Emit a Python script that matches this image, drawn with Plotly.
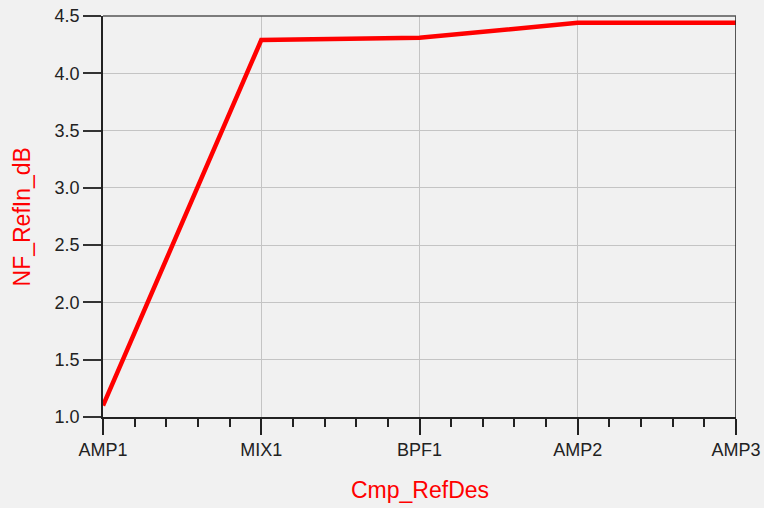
import plotly.graph_objects as go

categories = ["AMP1", "MIX1", "BPF1", "AMP2", "AMP3"]
nf_refin_db = [1.10, 4.29, 4.31, 4.44, 4.44]
y_ticks = [1.0, 1.5, 2.0, 2.5, 3.0, 3.5, 4.0, 4.5]

x_pos = list(range(len(categories)))

fig = go.Figure()
fig.add_trace(
    go.Scatter(
        x=x_pos,
        y=nf_refin_db,
        mode="lines",
        line=dict(color="#ff0000", width=4.5),
        showlegend=False,
    )
)

tick_font = dict(family="Liberation Sans, Arial, sans-serif", size=18, color="#222222")
title_font = dict(family="Liberation Sans, Arial, sans-serif", size=23, color="#ff0000")

fig.update_layout(
    width=764,
    height=508,
    paper_bgcolor="#f1f1f1",
    plot_bgcolor="#f1f1f1",
    margin=dict(l=103, r=28, t=16, b=91),
    xaxis=dict(
        range=[0, len(categories) - 1],
        tickmode="array",
        tickvals=x_pos,
        ticktext=categories,
        tickfont=tick_font,
        ticks="outside",
        ticklen=16,
        tickwidth=1.5,
        tickcolor="#222222",
        showgrid=True,
        gridcolor="#c4c4c4",
        gridwidth=1,
        showline=True,
        linecolor="#222222",
        linewidth=1.5,
        zeroline=False,
        automargin=False,
        minor=dict(dtick=0.2, tick0=0, ticks="outside", ticklen=8, tickwidth=1.5,
                   tickcolor="#222222", showgrid=False),
    ),
    yaxis=dict(
        range=[1.0, 4.5],
        tickmode="array",
        tickvals=y_ticks,
        ticktext=[f"{v:.1f}" for v in y_ticks],
        tickfont=tick_font,
        ticks="outside",
        ticklen=18,
        tickwidth=2,
        tickcolor="#333333",
        showgrid=True,
        gridcolor="#c4c4c4",
        gridwidth=1,
        showline=True,
        linecolor="#222222",
        linewidth=1.5,
        zeroline=False,
        automargin=False,
    ),
)

# axis titles as annotations so they sit where the reference has them
fig.add_annotation(text="Cmp_RefDes", xref="paper", yref="paper", x=0.5, y=-0.182,
                   xanchor="center", yanchor="middle", showarrow=False, font=title_font)
fig.add_annotation(text="NF_RefIn_dB", xref="paper", yref="paper", x=-0.128, y=0.5,
                   xanchor="center", yanchor="middle", textangle=-90, showarrow=False,
                   font=title_font)

# right and top frame lines
fig.add_shape(type="line", xref="x", yref="paper", x0=len(categories) - 1, x1=len(categories) - 1,
              y0=0, y1=1, line=dict(color="#222222", width=1.5))
fig.add_shape(type="line", xref="paper", yref="paper", x0=0, x1=1, y0=1, y1=1,
              line=dict(color="#555555", width=1.5))

# drop the default page margin so the chart fills the window
fig.write_html(
    "out.html",
    config={"displayModeBar": False},
    post_script="document.body.style.margin='0';document.body.style.background='#f1f1f1';",
)
